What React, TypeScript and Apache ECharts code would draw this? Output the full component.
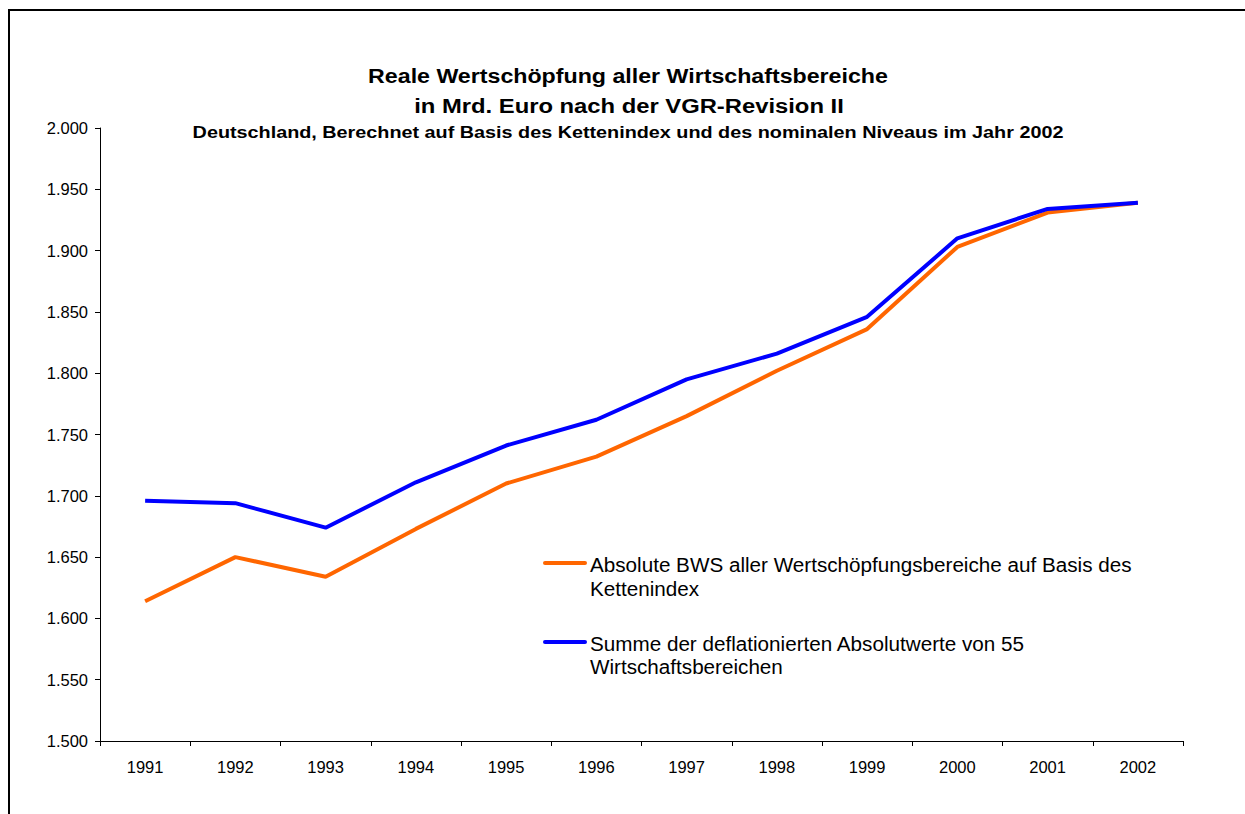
import React, { useEffect, useRef } from "react";
import * as echarts from "echarts";

const years = ["1991", "1992", "1993", "1994", "1995", "1996", "1997", "1998", "1999", "2000", "2001", "2002"];
const orangeValues = [1614, 1650, 1634, 1673, 1710, 1732, 1765, 1802, 1836, 1903, 1931, 1939];
const blueValues = [1696, 1694, 1674, 1711, 1741, 1762, 1795, 1816, 1846, 1910, 1934, 1939];
const orangeName = "Absolute BWS aller Wertschöpfungsbereiche auf Basis des\nKettenindex";
const blueName = "Summe der deflationierten Absolutwerte von 55\nWirtschaftsbereichen";
const titleLine1 = "Reale Wertschöpfung aller Wirtschaftsbereiche";
const titleLine2 = "in Mrd. Euro nach der VGR-Revision II";
const subtitle = "Deutschland, Berechnet auf Basis des Kettenindex und des nominalen Niveaus im Jahr 2002";

const FONT = "'Liberation Sans', Arial, sans-serif";
const ORANGE = "#FF6600";
const BLUE = "#0000FF";

export default function App() {
  const ref = useRef<HTMLDivElement>(null);
  useEffect(() => {
    document.body.style.margin = "0";
    const chart = echarts.init(ref.current!, null, { renderer: "svg" });
    chart.setOption({
      animation: false,
      backgroundColor: "#fff",
      grid: { left: 100, right: 62, top: 128, bottom: 73 },
      xAxis: {
        type: "category",
        data: years,
        boundaryGap: true,
        axisLine: { lineStyle: { color: "#000", width: 1 } },
        axisTick: { show: true, length: 5, inside: false, lineStyle: { color: "#000" } },
        axisLabel: { color: "#000", fontFamily: FONT, fontSize: 16.5, margin: 17 },
        splitLine: { show: false },
      },
      yAxis: {
        type: "value",
        min: 1500,
        max: 2000,
        interval: 50,
        axisLine: { show: true, lineStyle: { color: "#000", width: 1 } },
        axisTick: { show: true, length: 5, inside: false, lineStyle: { color: "#000" } },
        axisLabel: {
          color: "#000",
          fontFamily: FONT,
          fontSize: 16.5,
          margin: 12,
          formatter: (v: number) => {
            const s = Math.round(v).toString();
            return s.slice(0, s.length - 3) + "." + s.slice(s.length - 3);
          },
        },
        splitLine: { show: false },
      },
      series: [
        {
          name: orangeName,
          type: "line",
          data: orangeValues,
          symbol: "none",
          lineStyle: { color: ORANGE, width: 4 },
          itemStyle: { color: ORANGE },
          z: 2,
        },
        {
          name: blueName,
          type: "line",
          data: blueValues,
          symbol: "none",
          lineStyle: { color: BLUE, width: 4 },
          itemStyle: { color: BLUE },
          z: 3,
        },
      ],
      graphic: [
        {
          type: "rect",
          shape: { x: 9, y: 10, width: 1260, height: 830 },
          style: { fill: "none", stroke: "#000", lineWidth: 2 },
          silent: true,
        },
        {
          type: "text",
          x: 628,
          y: 76,
          scaleX: 1.16,
          style: { text: titleLine1, fontFamily: FONT, fontSize: 20, fontWeight: "bold", fill: "#000", textAlign: "center", textVerticalAlign: "middle" },
        },
        {
          type: "text",
          x: 629,
          y: 106,
          scaleX: 1.19,
          style: { text: titleLine2, fontFamily: FONT, fontSize: 20, fontWeight: "bold", fill: "#000", textAlign: "center", textVerticalAlign: "middle" },
        },
        {
          type: "text",
          x: 628,
          y: 132,
          scaleX: 1.165,
          style: { text: subtitle, fontFamily: FONT, fontSize: 17, fontWeight: "bold", fill: "#000", textAlign: "center", textVerticalAlign: "middle" },
        },
        {
          type: "line",
          shape: { x1: 545, y1: 563, x2: 585, y2: 563 },
          style: { stroke: ORANGE, lineWidth: 4, lineCap: "round" },
        },
        {
          type: "text",
          x: 590,
          y: 553,
          scaleX: 1.06,
          style: { text: orangeName, fontFamily: FONT, fontSize: 19.5, lineHeight: 24, fill: "#000", textAlign: "left", textVerticalAlign: "top" },
        },
        {
          type: "line",
          shape: { x1: 545, y1: 642, x2: 585, y2: 642 },
          style: { stroke: BLUE, lineWidth: 4, lineCap: "round" },
        },
        {
          type: "text",
          x: 590,
          y: 632,
          scaleX: 1.06,
          style: { text: blueName, fontFamily: FONT, fontSize: 19.5, lineHeight: 23.5, fill: "#000", textAlign: "left", textVerticalAlign: "top" },
        },
      ],
    });
    return () => chart.dispose();
  }, []);
  return <div ref={ref} style={{ width: 1245, height: 814 }} />;
}
